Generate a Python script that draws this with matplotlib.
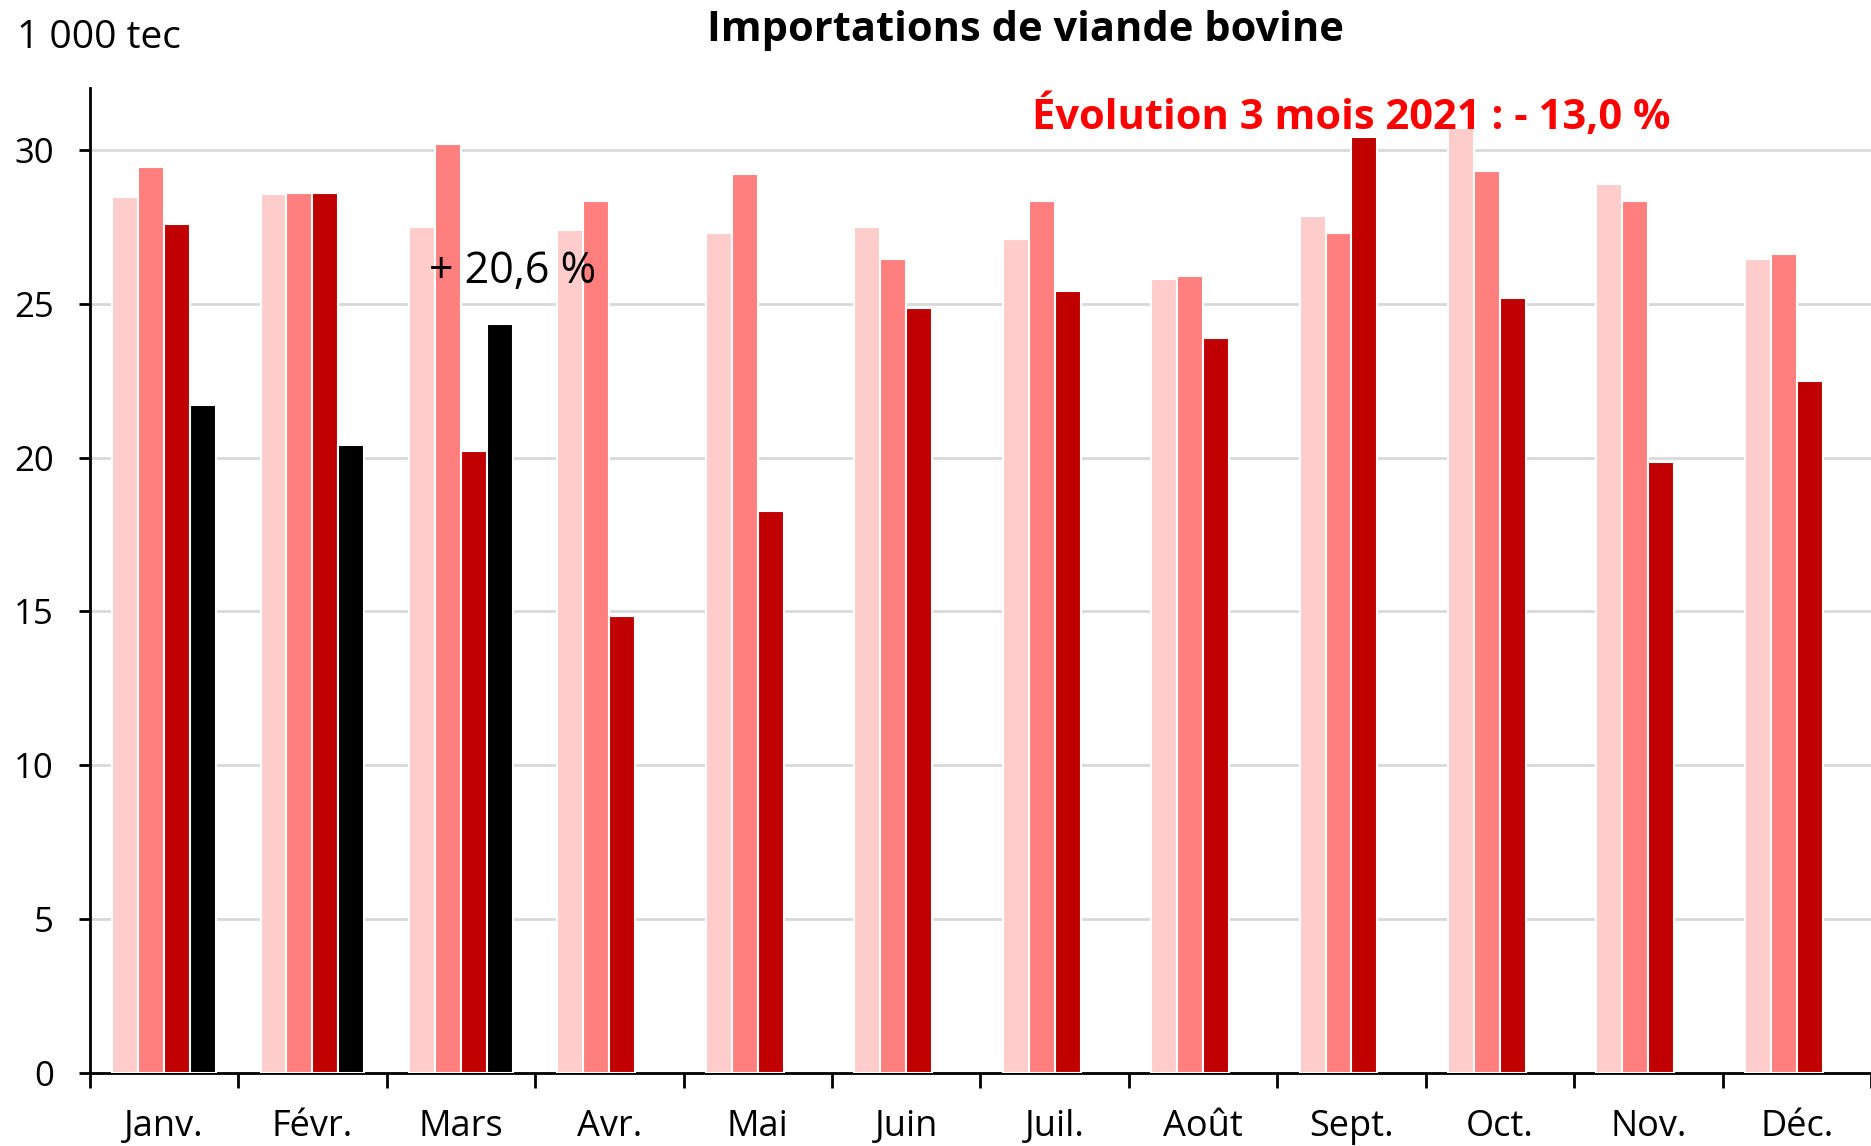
import numpy as np
import matplotlib
matplotlib.use("Agg")
import matplotlib.pyplot as plt

plt.rcParams['font.family'] = ['Open Sans', 'DejaVu Sans']

months = ["Janv.", "Févr.", "Mars", "Avr.", "Mai", "Juin", "Juil.", "Août",
          "Sept.", "Oct.", "Nov.", "Déc."]
s2018 = [28.45, 28.55, 27.5, 27.4, 27.3, 27.5, 27.1, 25.8, 27.85, 30.7, 28.9, 26.45]
s2019 = [29.45, 28.6, 30.2, 28.35, 29.2, 26.45, 28.35, 25.9, 27.3, 29.3, 28.35, 26.6]
s2020 = [27.6, 28.6, 20.2, 14.85, 18.25, 24.85, 25.4, 23.9, 30.4, 25.2, 19.85, 22.5]
s2021 = [21.7, 20.4, 24.35] + [np.nan] * 9
series = [s2018, s2019, s2020, s2021]
colors = ["#FFCCCC", "#FF7F7F", "#C00000", "#000000"]

title = "Importations de viande bovine"
unit = "1 000 tec"
evol_text = "Évolution 3 mois 2021 : - 13,0 %"
mars_text = "+ 20,6 %"

fig = plt.figure(figsize=(18.71, 11.46), dpi=100)
ax = fig.add_axes([0.048, 0.0637, 0.952, 0.8593])

x = np.arange(len(months))
w = 0.175
for i, (vals, c) in enumerate(zip(series, colors)):
    ax.bar(x + (i - 1.5) * w, vals, width=w, color=c, edgecolor="white",
           linewidth=1.5, zorder=3)

ax.set_xlim(-0.5, 11.5)
ax.set_ylim(0, 32)
ax.set_yticks(np.arange(0, 31, 5))
ax.yaxis.grid(True, color="#d9d9d9", linewidth=2, zorder=0)
ax.set_axisbelow(True)

ax.set_xticks(x)
ax.set_xticklabels(months, fontsize=26)
ax.tick_params(axis='x', length=0, pad=26)
ax.set_xticks(np.arange(-0.5, 12, 1), minor=True)
ax.tick_params(axis='x', which='minor', length=11, width=2)
ax.tick_params(axis='y', length=8, width=2, pad=18, labelsize=25)

for s in ["top", "right"]:
    ax.spines[s].set_visible(False)
ax.spines["left"].set_linewidth(2)
ax.spines["bottom"].set_linewidth(2)

ax.text(8.0, 31.05, evol_text, color="#FF0000", fontsize=30, fontweight="bold",
        ha="center", va="center", zorder=5)
ax.text(2.35, 26.05, mars_text, color="black", fontsize=31,
        ha="center", va="center", zorder=5)

fig.text(0.548, 0.973, title, fontsize=30, fontweight="bold", ha="center", va="center")
fig.text(0.009, 0.967, unit, fontsize=28, ha="left", va="center")

fig.savefig("out.png", dpi=100)
